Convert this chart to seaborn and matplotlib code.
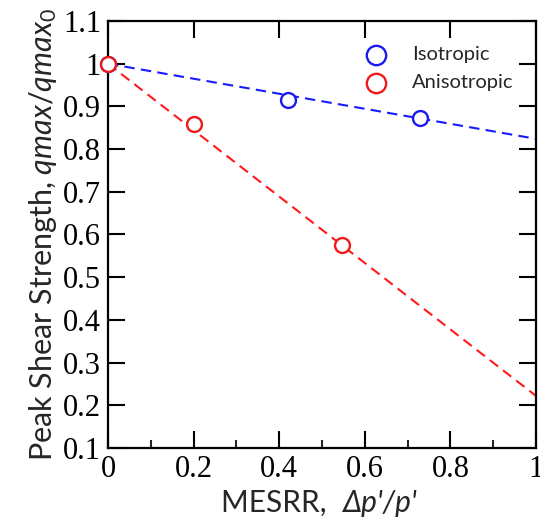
import matplotlib
matplotlib.use("Agg")
import matplotlib.pyplot as plt
import seaborn as sns
import pandas as pd
from matplotlib.ticker import MultipleLocator

# Data
iso_x = [0.0, 0.42, 0.73]
iso_y = [1.0, 0.916, 0.873]
aniso_x = [0.0, 0.20, 0.547]
aniso_y = [1.0, 0.859, 0.575]
fit_x = [0.0, 1.0]
iso_fit = [1.0, 0.824]
aniso_fit = [1.0, 0.222]
x_ticks = [0, 0.2, 0.4, 0.6, 0.8, 1.0]
x_ticklabels = ["0", "0.2", "0.4", "0.6", "0.8", "1"]
y_ticks = [0.1, 0.2, 0.3, 0.4, 0.5, 0.6, 0.7, 0.8, 0.9, 1.0, 1.1]
y_ticklabels = ["0.1", "0.2", "0.3", "0.4", "0.5", "0.6", "0.7", "0.8", "0.9", "1", "1.1"]

sns.set_theme(style="ticks")
plt.rcParams["font.family"] = ["Lato", "DejaVu Sans"]
plt.rcParams["mathtext.fontset"] = "custom"
plt.rcParams["mathtext.it"] = "Lato:italic"
plt.rcParams["mathtext.rm"] = "Lato"

fig = plt.figure(figsize=(5.4, 5.22), dpi=100)
ax = fig.add_axes([0.2, 0.1418, 0.7926, 0.818])

iso_df = pd.DataFrame({"x": iso_x, "y": iso_y})
an_df = pd.DataFrame({"x": aniso_x, "y": aniso_y})
fit_df = pd.DataFrame({"x": fit_x, "iso": iso_fit, "an": aniso_fit})

sns.lineplot(data=fit_df, x="x", y="iso", ax=ax, color="#1a1aff", lw=1.5,
             linestyle=(0, (5, 3)), zorder=2)
sns.lineplot(data=fit_df, x="x", y="an", ax=ax, color="#ff1a1a", lw=1.5,
             linestyle=(0, (5, 3)), zorder=2)
sns.scatterplot(data=iso_df, x="x", y="y", ax=ax, marker="o", s=115,
                facecolor="white", edgecolor="#1a1aee", linewidth=1.7,
                label="Isotropic", zorder=3, clip_on=False)
sns.scatterplot(data=an_df, x="x", y="y", ax=ax, marker="o", s=115,
                facecolor="white", edgecolor="#ee1a1a", linewidth=1.7,
                label="Anisotropic", zorder=4, clip_on=False)

ax.set_xlim(0, 1)
ax.set_ylim(0.1, 1.1)
ax.xaxis.set_minor_locator(MultipleLocator(0.1))

ax.tick_params(which="major", direction="in", length=12, width=1.5,
               top=True, right=True, colors="black", pad=5)
ax.tick_params(which="minor", direction="in", length=6, width=1.5,
               top=False, right=False, bottom=True)
ax.set_xticks(x_ticks)
ax.set_xticklabels(x_ticklabels, fontfamily=["Liberation Serif", "DejaVu Serif"], fontsize=22)
ax.set_yticks(y_ticks)
ax.set_yticklabels(y_ticklabels, fontfamily=["Liberation Serif", "DejaVu Serif"], fontsize=22)
for s in ax.spines.values():
    s.set_linewidth(1.6)
    s.set_color("black")

# x label: upright part + italic part
ax.set_xlabel("")
t1 = fig.text(0.41, 0.02, "MESRR,  ", fontsize=21.5, ha="left", va="baseline")
ax.annotate("Δp'/p'", xy=(1, 0), xycoords=t1, fontsize=21.5, fontstyle="italic",
            ha="left", va="bottom")
ax.set_ylabel("Peak Shear Strength, $\\it{qmax/qmax_0}$", fontsize=22, labelpad=3)

leg = ax.legend(loc="upper right", frameon=False, fontsize=14.5,
                bbox_to_anchor=(0.98, 0.975), handletextpad=0.8,
                borderaxespad=0.3, labelspacing=0.55, markerscale=1.3)

fig.savefig("out.png", dpi=100)
